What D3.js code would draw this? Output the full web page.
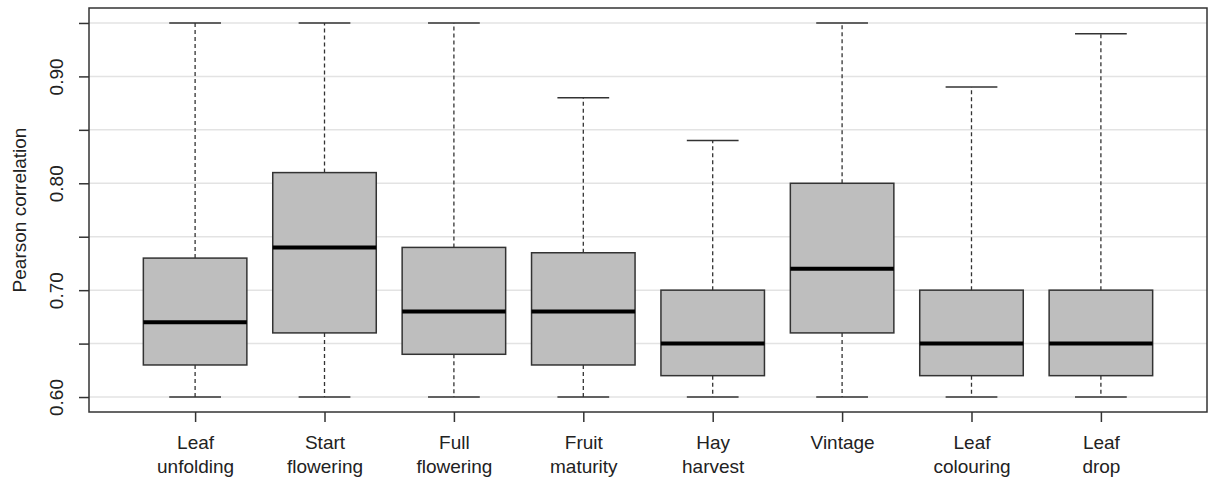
<!DOCTYPE html>
<html>
<head>
<meta charset="utf-8">
<script src="https://cdn.jsdelivr.net/npm/d3@7"></script>
<style>
  html, body { margin: 0; padding: 0; background: #fff; }
  svg { display: block; font-family: "Liberation Sans", Arial, Helvetica, sans-serif; }
</style>
</head>
<body>
<svg id="chart" width="1210" height="482"></svg>
<script>
// ---- data ----
const categories = [
  ["Leaf", "unfolding"], ["Start", "flowering"], ["Full", "flowering"], ["Fruit", "maturity"],
  ["Hay", "harvest"], ["Vintage"], ["Leaf", "colouring"], ["Leaf", "drop"]
];
const whiskerLow  = [0.60, 0.60, 0.60, 0.60, 0.60, 0.60, 0.60, 0.60];
const quartile1   = [0.63, 0.66, 0.64, 0.63, 0.62, 0.66, 0.62, 0.62];
const medians     = [0.67, 0.74, 0.68, 0.68, 0.65, 0.72, 0.65, 0.65];
const quartile3   = [0.73, 0.81, 0.74, 0.735, 0.70, 0.80, 0.70, 0.70];
const whiskerHigh = [0.95, 0.95, 0.95, 0.88, 0.84, 0.95, 0.89, 0.94];
const yTickValues = [0.60, 0.65, 0.70, 0.75, 0.80, 0.85, 0.90, 0.95];
const yTickLabels = ["0.60", "", "0.70", "", "0.80", "", "0.90", ""];
const yTitle = "Pearson correlation";

// ---- layout ----
const svg = d3.select("#chart");
const L = 89, R = 1207, T = 8, B = 412;
const n = categories.length;

const x = d3.scaleLinear().domain([0.18, n + 0.82]).range([L, R]);
const y = d3.scaleLinear().domain([0.586, 0.964]).range([B, T]);
const unit = x(1) - x(0);
const halfBox = 0.4 * unit, halfCap = 0.2 * unit;

// gridlines
svg.append("g").selectAll("line").data(yTickValues).join("line")
  .attr("x1", L).attr("x2", R)
  .attr("y1", d => y(d)).attr("y2", d => y(d))
  .attr("stroke", "#e3e3e3").attr("stroke-width", 1.5);

const idx = d3.range(n);
const g = svg.append("g");

// whiskers (dashed)
g.selectAll(".wu").data(idx).join("line")
  .attr("x1", i => x(i + 1)).attr("x2", i => x(i + 1))
  .attr("y1", i => y(quartile3[i])).attr("y2", i => y(whiskerHigh[i]))
  .attr("stroke", "#333").attr("stroke-width", 1.3).attr("stroke-dasharray", "4,3");
g.selectAll(".wl").data(idx).join("line")
  .attr("x1", i => x(i + 1)).attr("x2", i => x(i + 1))
  .attr("y1", i => y(quartile1[i])).attr("y2", i => y(whiskerLow[i]))
  .attr("stroke", "#333").attr("stroke-width", 1.3).attr("stroke-dasharray", "4,3");
// caps
g.selectAll(".ch").data(idx).join("line")
  .attr("x1", i => x(i + 1) - halfCap).attr("x2", i => x(i + 1) + halfCap)
  .attr("y1", i => y(whiskerHigh[i])).attr("y2", i => y(whiskerHigh[i]))
  .attr("stroke", "#333").attr("stroke-width", 1.5);
g.selectAll(".cl").data(idx).join("line")
  .attr("x1", i => x(i + 1) - halfCap).attr("x2", i => x(i + 1) + halfCap)
  .attr("y1", i => y(whiskerLow[i])).attr("y2", i => y(whiskerLow[i]))
  .attr("stroke", "#333").attr("stroke-width", 1.5);
// boxes
g.selectAll("rect").data(idx).join("rect")
  .attr("x", i => x(i + 1) - halfBox).attr("width", 2 * halfBox)
  .attr("y", i => y(quartile3[i])).attr("height", i => y(quartile1[i]) - y(quartile3[i]))
  .attr("fill", "#bebebe").attr("stroke", "#333").attr("stroke-width", 1.5);
// medians
g.selectAll(".med").data(idx).join("line")
  .attr("x1", i => x(i + 1) - halfBox).attr("x2", i => x(i + 1) + halfBox)
  .attr("y1", i => y(medians[i])).attr("y2", i => y(medians[i]))
  .attr("stroke", "#000").attr("stroke-width", 4);

// plot frame
svg.append("rect").attr("x", L).attr("y", T).attr("width", R - L).attr("height", B - T)
  .attr("fill", "none").attr("stroke", "#333").attr("stroke-width", 1.5);

// y axis
const yAxis = d3.axisLeft(y).tickValues(yTickValues).tickSize(10)
  .tickFormat((d, i) => yTickLabels[i]);
const ya = svg.append("g").attr("transform", `translate(${L},0)`).call(yAxis);
ya.select(".domain").remove();
ya.selectAll(".tick line").attr("stroke", "#333").attr("stroke-width", 1.5);
ya.selectAll(".tick text")
  .attr("x", null).attr("dy", null)
  .attr("transform", "translate(-26,0) rotate(-90)")
  .attr("text-anchor", "middle").attr("y", 0)
  .attr("font-size", 19).attr("fill", "#222");

// x axis
const xAxis = d3.axisBottom(x).tickValues(d3.range(1, n + 1)).tickSize(10).tickFormat("");
const xa = svg.append("g").attr("transform", `translate(0,${B})`).call(xAxis);
xa.select(".domain").remove();
xa.selectAll(".tick line").attr("stroke", "#333").attr("stroke-width", 1.5);
xa.selectAll(".tick").each(function (d) {
  const lines = categories[d - 1];
  const t = d3.select(this).append("text")
    .attr("text-anchor", "middle").attr("font-size", 19).attr("fill", "#222");
  lines.forEach((s, k) => t.append("tspan").attr("x", 0).attr("y", 37 + k * 24).text(s));
});

// y title
svg.append("text")
  .attr("transform", `translate(26,${(T + B) / 2}) rotate(-90)`)
  .attr("text-anchor", "middle").attr("font-size", 19).attr("fill", "#222")
  .text(yTitle);
</script>
</body>
</html>
